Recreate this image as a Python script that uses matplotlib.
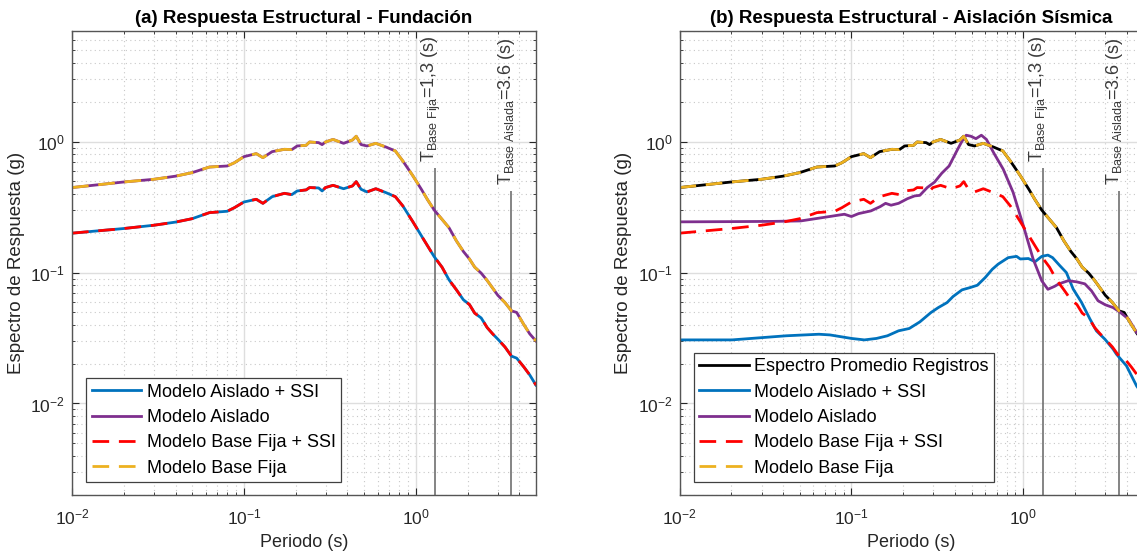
import numpy as np
import matplotlib
matplotlib.use('Agg')
import matplotlib.pyplot as plt
from matplotlib.ticker import LogLocator, NullFormatter

plt.rcParams['font.family'] = ['Liberation Sans', 'DejaVu Sans']
plt.rcParams['mathtext.fontset'] = 'custom'
plt.rcParams['mathtext.rm'] = 'Liberation Sans'
plt.rcParams['mathtext.it'] = 'Liberation Sans:italic'
plt.rcParams['mathtext.bf'] = 'Liberation Sans:bold'

# periods (s) shared by the record spectrum and the fixed base models
periodo = [0.01, 0.02, 0.03, 0.04, 0.05, 0.063, 0.08, 0.088, 0.1, 0.118, 0.129, 0.146,
           0.172, 0.19, 0.204, 0.23, 0.241, 0.272, 0.285, 0.298, 0.33, 0.38, 0.428, 0.45,
           0.48, 0.52, 0.585, 0.67, 0.76, 0.84, 0.96, 1.08, 1.17, 1.28, 1.42, 1.56, 1.72,
           1.89, 2.05, 2.2, 2.4, 2.6, 2.8, 3.0, 3.3, 3.6, 3.86, 4.25, 4.6, 5.0]

# spectrum of records / fixed base model (g)
sa_registros = [0.446, 0.492, 0.516, 0.545, 0.58, 0.64, 0.652, 0.69, 0.768, 0.81, 0.755, 0.839,
                0.874, 0.869, 0.927, 0.938, 0.994, 0.983, 0.949, 0.994, 1.04, 0.971, 1.03, 1.10,
                0.95, 0.927, 0.971, 0.91, 0.849, 0.712, 0.55, 0.43, 0.36, 0.30, 0.255, 0.22, 0.175,
                0.145, 0.127, 0.11, 0.099, 0.087, 0.076, 0.067, 0.059, 0.051, 0.0496, 0.040, 0.034, 0.030]

# fixed base + SSI model (g)
sa_bf_ssi = [0.2, 0.217, 0.23, 0.243, 0.258, 0.287, 0.294, 0.313, 0.346, 0.363, 0.338, 0.38,
             0.403, 0.394, 0.42, 0.428, 0.446, 0.443, 0.42, 0.446, 0.464, 0.437, 0.459, 0.495,
             0.433, 0.413, 0.437, 0.408, 0.38, 0.323, 0.245, 0.19, 0.16, 0.132, 0.11, 0.088, 0.074,
             0.062, 0.057, 0.049, 0.045, 0.038, 0.034, 0.031, 0.027, 0.023, 0.0222, 0.019, 0.0165, 0.0138]

# isolated model (right panel)
periodo_ais = [0.01, 0.02, 0.035, 0.0507, 0.068, 0.091, 0.1, 0.11, 0.13, 0.147, 0.158, 0.17,
               0.188, 0.212, 0.233, 0.25, 0.276, 0.305, 0.335, 0.37, 0.41, 0.44, 0.465, 0.495,
               0.53, 0.57, 0.61, 0.68, 0.763, 0.872, 1.0, 1.14, 1.28, 1.39, 1.52, 1.61, 1.82,
               2.04, 2.28, 2.49, 2.72, 3.0, 3.33, 3.64, 4.1, 4.56, 5.0]
sa_aislado = [0.244, 0.245, 0.246, 0.248, 0.263, 0.279, 0.268, 0.282, 0.296, 0.319, 0.338, 0.327,
              0.338, 0.367, 0.385, 0.389, 0.446, 0.492, 0.573, 0.652, 0.849, 1.01, 1.12, 1.10,
              1.054, 1.12, 1.04, 0.80, 0.618, 0.41, 0.228, 0.127, 0.0865, 0.0745, 0.0785, 0.082, 0.0866,
              0.085, 0.082, 0.0726, 0.0609, 0.0567, 0.054, 0.05, 0.044, 0.0349, 0.031]

# isolated + SSI model (right panel)
periodo_ais_ssi = [0.01, 0.0202, 0.0418, 0.0647, 0.075, 0.1, 0.119, 0.14, 0.162, 0.188, 0.217,
                   0.25, 0.29, 0.32, 0.36, 0.39, 0.44, 0.49, 0.54, 0.6, 0.66, 0.714, 0.816, 0.913,
                   0.96, 1.07, 1.17, 1.28, 1.39, 1.48, 1.63, 1.78, 1.95, 2.18, 2.44, 2.66, 2.98,
                   3.33, 3.48, 3.98, 4.56, 5.0]
sa_aislado_ssi = [0.0306, 0.0306, 0.0329, 0.0338, 0.0334, 0.0314, 0.0306, 0.0314, 0.0329, 0.0359, 0.0374,
                  0.042, 0.0495, 0.054, 0.059, 0.0656, 0.0738, 0.0768, 0.08, 0.0916, 0.106, 0.116, 0.13, 0.133,
                  0.127, 0.128, 0.121, 0.133, 0.136, 0.13, 0.113, 0.1, 0.0748, 0.0592, 0.0442, 0.0359, 0.031,
                  0.026, 0.0238, 0.0194, 0.0136, 0.0115]

T_base_fija = 1.3
T_base_aislada = 3.6

c_azul = '#0072BD'
c_morado = '#7E2F8E'
c_rojo = '#FF0000'
c_amarillo = '#EDB120'
dash = (0, (6, 3.5))
lw = 2


def style_axes(ax, title):
    ax.set_xscale('log')
    ax.set_yscale('log')
    ax.set_xlim(0.01, 5)
    ax.set_ylim(0.002, 7)
    ax.xaxis.set_minor_locator(LogLocator(base=10, subs=np.arange(2, 10)))
    ax.yaxis.set_minor_locator(LogLocator(base=10, subs=np.arange(2, 10)))
    ax.xaxis.set_minor_formatter(NullFormatter())
    ax.yaxis.set_minor_formatter(NullFormatter())
    ax.grid(True, which='major', color='#dedede', lw=1, ls='-')
    ax.grid(True, which='minor', color='#c8c8c8', lw=0.8, ls=(0, (1, 3)))
    ax.set_axisbelow(True)
    ax.tick_params(which='both', direction='in', top=True, right=True, colors='#262626',
                   labelsize=12.5)
    ax.tick_params(which='major', length=5, width=0.8)
    ax.tick_params(which='minor', length=2.5, width=0.6)
    ax.tick_params(axis='x', pad=9)
    ax.tick_params(axis='y', pad=5)
    for s in ax.spines.values():
        s.set_color('#555555')
        s.set_linewidth(1.0)
    ax.set_title(title, fontsize=13.5, fontweight='bold', pad=6)
    ax.set_xlabel('Periodo (s)', fontsize=13, color='#262626', labelpad=5)
    ax.set_ylabel('Espectro de Respuesta (g)', fontsize=13.5, color='#262626', labelpad=4)

    # fundamental periods
    ax.vlines(T_base_fija, 0.002, 0.63, color='#707070', lw=1.2, zorder=1.5)
    ax.vlines(T_base_aislada, 0.002, 0.42, color='#707070', lw=1.2, zorder=1.5)
    ax.text(T_base_fija, 0.70, r'$\mathrm{T}_{\mathrm{Base\ Fija}}$=1,3 (s)', rotation=90,
            rotation_mode='anchor', ha='left', va='baseline', fontsize=13, color='#3a3a3a')
    ax.text(T_base_aislada, 0.465, r'$\mathrm{T}_{\mathrm{Base\ Aislada}}$=3.6 (s)', rotation=90,
            rotation_mode='anchor', ha='left', va='baseline', fontsize=13, color='#3a3a3a')


def legend(ax):
    leg = ax.legend(loc='lower left', bbox_to_anchor=(0.031, 0.028), borderaxespad=0,
                    fontsize=13, handlelength=2.75, handletextpad=0.3, borderpad=0.3,
                    labelspacing=0.46, fancybox=False, framealpha=1)
    leg.get_frame().set_edgecolor('#404040')
    leg.get_frame().set_linewidth(0.9)


fig = plt.figure(figsize=(11.37, 5.53), dpi=100)
ax1 = fig.add_axes([72 / 1137, 0.1049, 464 / 1137, 0.839])
ax2 = fig.add_axes([679.5 / 1137, 0.1049, 464 / 1137, 0.839])

# (a) foundation
style_axes(ax1, '(a) Respuesta Estructural - Fundación')
ax1.plot(periodo, sa_bf_ssi, color=c_azul, lw=lw, label='Modelo Aislado + SSI')
ax1.plot(periodo, sa_registros, color=c_morado, lw=lw, label='Modelo Aislado')
ax1.plot(periodo, sa_bf_ssi, color=c_rojo, lw=lw, ls=dash, label='Modelo Base Fija + SSI')
ax1.plot(periodo, sa_registros, color=c_amarillo, lw=lw, ls=dash, label='Modelo Base Fija')
legend(ax1)

# (b) seismic isolation
style_axes(ax2, '(b) Respuesta Estructural - Aislación Sísmica')
ax2.plot(periodo, sa_registros, color='black', lw=lw, label='Espectro Promedio Registros')
ax2.plot(periodo_ais_ssi, sa_aislado_ssi, color=c_azul, lw=lw, label='Modelo Aislado + SSI')
ax2.plot(periodo_ais, sa_aislado, color=c_morado, lw=lw, label='Modelo Aislado')
ax2.plot(periodo, sa_bf_ssi, color=c_rojo, lw=lw, ls=dash, label='Modelo Base Fija + SSI')
ax2.plot(periodo, sa_registros, color=c_amarillo, lw=lw, ls=dash, label='Modelo Base Fija')
legend(ax2)

fig.savefig('out.png', dpi=100)
